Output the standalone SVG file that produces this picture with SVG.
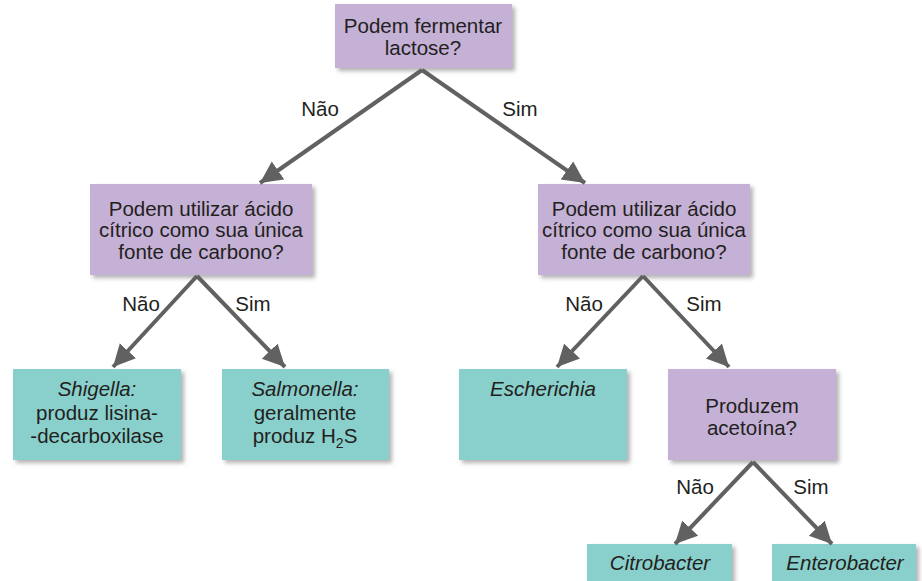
<svg xmlns="http://www.w3.org/2000/svg" width="922" height="581" viewBox="0 0 922 581">
<defs>
<filter id="sh" x="-10%" y="-10%" width="125%" height="130%">
<feDropShadow dx="3" dy="3" stdDeviation="2" flood-color="#000" flood-opacity="0.3"/>
</filter>
<marker id="ah" markerUnits="userSpaceOnUse" markerWidth="24" markerHeight="24" refX="22" refY="11" orient="auto">
<path d="M0,0 L22,11 L0,22 z" fill="#616161"/>
</marker>
<style>
.q{fill:#c5b0d6;filter:url(#sh)}
.r{fill:#89d0cc;filter:url(#sh)}
text{font-family:"Liberation Sans",Arial,sans-serif;font-size:20.5px;fill:#231f20;text-anchor:middle}
.i{font-style:italic}
.c line{stroke:#616161;stroke-width:4;marker-end:url(#ah)}
</style>
</defs>
<rect width="922" height="581" fill="#fff"/>
<g id="n1"><rect class="q" x="335" y="4" width="177" height="64"/><text x="423" y="33">Podem fermentar</text><text x="423" y="55">lactose?</text></g>
<g id="n2"><rect class="q" x="90" y="184" width="222" height="91"/><text x="201" y="216">Podem utilizar ácido</text><text x="201" y="237">cítrico como sua única</text><text x="201" y="259">fonte de carbono?</text></g>
<g id="n3"><rect class="q" x="538" y="184" width="212" height="91"/><text x="644" y="216">Podem utilizar ácido</text><text x="644" y="237">cítrico como sua única</text><text x="644" y="259">fonte de carbono?</text></g>
<g id="n4"><rect class="r" x="13" y="369" width="168" height="91"/><text class="i" x="97" y="396">Shigella:</text><text x="97" y="420">produz lisina-</text><text x="97" y="443">-decarboxilase</text></g>
<g id="n5"><rect class="r" x="222" y="369" width="167" height="91"/><text class="i" x="305" y="396">Salmonella:</text><text x="305" y="420">geralmente</text><text x="305" y="443">produz H<tspan font-size="14" dy="5">2</tspan><tspan dy="-5">S</tspan></text></g>
<g id="n6"><rect class="r" x="459" y="369" width="168" height="91"/><text class="i" x="543" y="396">Escherichia</text></g>
<g id="n7"><rect class="q" x="668" y="369" width="168" height="91"/><text x="752" y="413">Produzem</text><text x="752" y="435">acetoína?</text></g>
<g id="n8"><rect class="r" x="587" y="544" width="145" height="45"/><text class="i" x="660" y="570">Citrobacter</text></g>
<g id="n9"><rect class="r" x="772" y="544" width="144" height="45"/><text class="i" x="845" y="570">Enterobacter</text></g>
<g id="connectors" class="c">
<line x1="422" y1="70" x2="260" y2="183"/>
<line x1="422" y1="70" x2="585" y2="183"/>
<line x1="197" y1="276" x2="113" y2="367"/>
<line x1="197" y1="276" x2="285" y2="367"/>
<line x1="643" y1="276" x2="557" y2="367"/>
<line x1="643" y1="276" x2="729" y2="367"/>
<line x1="753" y1="462" x2="675" y2="544"/>
<line x1="753" y1="462" x2="832" y2="544"/>
</g>
<g id="labels">
<text x="320" y="116">Não</text><text x="520" y="116">Sim</text>
<text x="141" y="311">Não</text><text x="253" y="311">Sim</text>
<text x="584" y="311">Não</text><text x="704" y="311">Sim</text>
<text x="695" y="494">Não</text><text x="811" y="494">Sim</text>
</g>
</svg>
